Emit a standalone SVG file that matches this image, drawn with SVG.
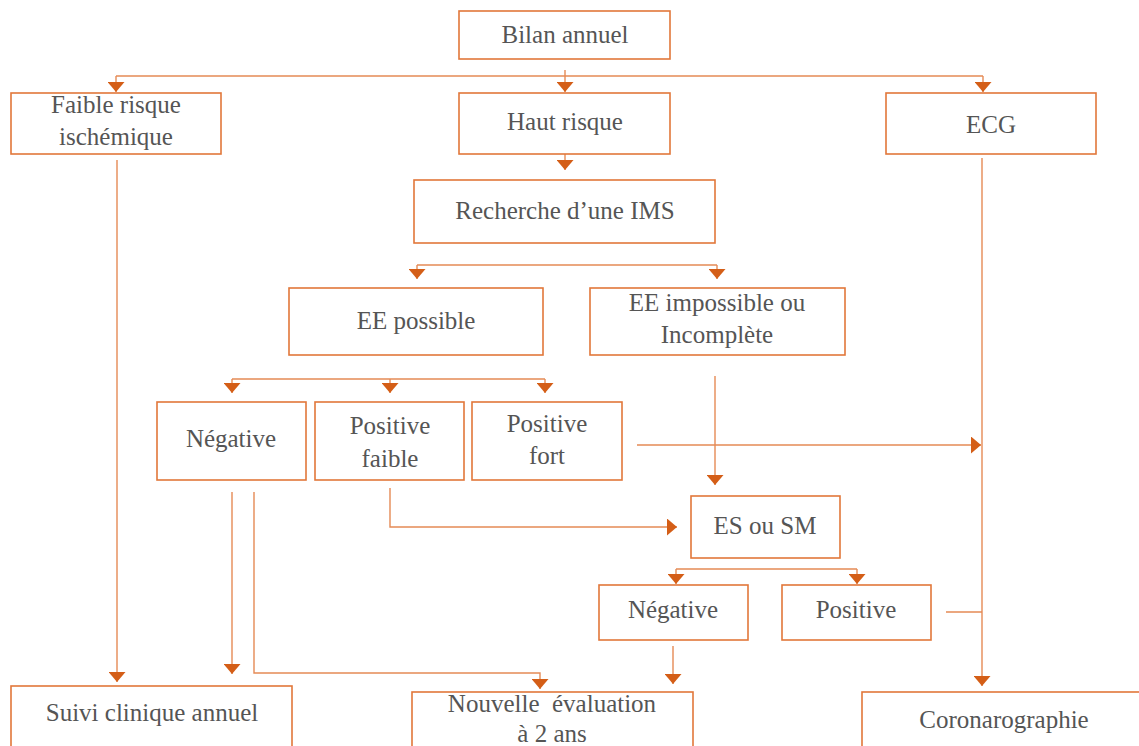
<svg xmlns="http://www.w3.org/2000/svg" width="1139" height="746" viewBox="0 0 1139 746">
<defs>
<style>
.box{fill:#ffffff;stroke:#E2773A;stroke-width:1.6}
.t{font-size:25px;fill:#555555;text-anchor:middle}
.c{fill:none;stroke:#E58A55;stroke-width:1.4}
.a{marker-end:url(#arr)}
</style>
<marker id="arr" viewBox="0 0 10 10" preserveAspectRatio="none" refX="10" refY="5" markerWidth="10" markerHeight="17" markerUnits="userSpaceOnUse" orient="auto">
<path d="M0,0 L10,5 L0,10 z" fill="#D45E17"/>
</marker>
</defs>
<rect width="1139" height="746" fill="#ffffff"/>
<g id="connectors">
<path class="c" d="M116,76 H983"/>
<path class="c a" d="M116,76 V92"/>
<path class="c a" d="M983,76 V92"/>
<path class="c a" d="M565,70 V92"/>
<path class="c a" d="M565,154 V170"/>
<path class="c" d="M417,265 H717"/>
<path class="c a" d="M417,265 V279"/>
<path class="c a" d="M717,265 V279"/>
<path class="c" d="M232,379 H545"/>
<path class="c a" d="M232,379 V393"/>
<path class="c a" d="M390,379 V393"/>
<path class="c a" d="M545,379 V393"/>
<path class="c a" d="M715,376 V485"/>
<path class="c a" d="M637,445 H981"/>
<path class="c a" d="M982,158 V686"/>
<path class="c a" d="M390,488 V527 H677"/>
<path class="c" d="M676,569 H857"/>
<path class="c a" d="M676,569 V584"/>
<path class="c a" d="M857,569 V584"/>
<path class="c" d="M946,612 H982"/>
<path class="c a" d="M673,646 V684"/>
<path class="c a" d="M117,160 V682"/>
<path class="c a" d="M232,492 V674"/>
<path class="c a" d="M254,492 V673 H540 V689"/>
</g>
<g id="nodes" font-family="Liberation Serif, Times New Roman, serif">
<g id="n-bilan"><rect class="box" x="459" y="11" width="211" height="48"/><text class="t" x="565" y="43">Bilan annuel</text></g>
<g id="n-faible"><rect class="box" x="11" y="93" width="210" height="61"/><text class="t" x="116" y="113">Faible risque</text><text class="t" x="116" y="145">ischémique</text></g>
<g id="n-haut"><rect class="box" x="459" y="93" width="211" height="61"/><text class="t" x="565" y="130">Haut risque</text></g>
<g id="n-ecg"><rect class="box" x="886" y="93" width="210" height="61"/><text class="t" x="991" y="133">ECG</text></g>
<g id="n-recherche"><rect class="box" x="414" y="180" width="301" height="63"/><text class="t" x="565" y="219">Recherche d’une IMS</text></g>
<g id="n-eepos"><rect class="box" x="289" y="288" width="254" height="67"/><text class="t" x="416" y="329">EE possible</text></g>
<g id="n-eeimp"><rect class="box" x="590" y="288" width="255" height="67"/><text class="t" x="717" y="311">EE impossible ou</text><text class="t" x="717" y="343">Incomplète</text></g>
<g id="n-neg1"><rect class="box" x="157" y="402" width="149" height="78"/><text class="t" x="231" y="447">Négative</text></g>
<g id="n-posfaible"><rect class="box" x="315" y="402" width="149" height="78"/><text class="t" x="390" y="434">Positive</text><text class="t" x="390" y="467">faible</text></g>
<g id="n-posfort"><rect class="box" x="472" y="402" width="150" height="78"/><text class="t" x="547" y="432">Positive</text><text class="t" x="547" y="464">fort</text></g>
<g id="n-essm"><rect class="box" x="691" y="496" width="149" height="62"/><text class="t" x="765" y="534">ES ou SM</text></g>
<g id="n-neg2"><rect class="box" x="599" y="585" width="149" height="55"/><text class="t" x="673" y="618">Négative</text></g>
<g id="n-pos2"><rect class="box" x="782" y="585" width="149" height="55"/><text class="t" x="856" y="618">Positive</text></g>
<g id="n-suivi"><rect class="box" x="11" y="686" width="281" height="70"/><text class="t" x="152" y="721">Suivi clinique annuel</text></g>
<g id="n-nouvelle"><rect class="box" x="412" y="692" width="281" height="64"/><text class="t" x="552" y="712" xml:space="preserve">Nouvelle  évaluation</text><text class="t" x="552" y="742">à 2 ans</text></g>
<g id="n-coronaro"><rect class="box" x="862" y="692" width="284" height="64"/><text class="t" x="1004" y="728">Coronarographie</text></g>
</g>
</svg>
